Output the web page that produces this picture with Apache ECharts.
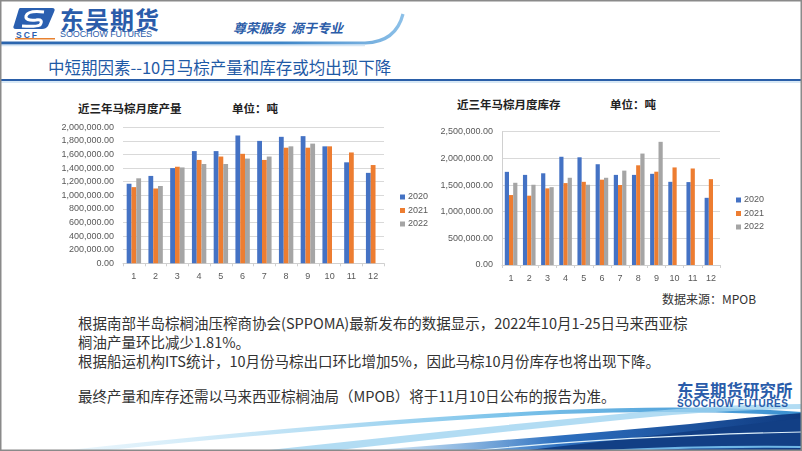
<!DOCTYPE html>
<html><head><meta charset="utf-8">
<script src="https://cdn.jsdelivr.net/npm/echarts@6/dist/echarts.min.js"></script>
<style>
html,body{margin:0;padding:0;background:#fff;}
#page{position:relative;width:802px;height:451px;overflow:hidden;background:#fff;font-family:"Noto Sans CJK SC","Noto Sans",sans-serif;}
#deco{position:absolute;left:0;top:0;width:802px;height:451px;}
#chart{position:absolute;left:0;top:0;width:802px;height:451px;}
.t{position:absolute;white-space:nowrap;line-height:1;}
</style></head>
<body>
<div id="page">
<svg id="deco" width="802" height="451" viewBox="0 0 802 451">
  <defs>
    <linearGradient id="hg" x1="0" y1="0" x2="1" y2="0">
      <stop offset="0" stop-color="#2a64ad"/><stop offset="0.7" stop-color="#3f86c8"/><stop offset="1" stop-color="#8cc0e8"/>
    </linearGradient>
    <linearGradient id="bg1" x1="0" y1="0" x2="1" y2="0">
      <stop offset="0" stop-color="#5fa6dd" stop-opacity="0.2"/><stop offset="0.45" stop-color="#2d6fbf"/><stop offset="1" stop-color="#0f3a80"/>
    </linearGradient>
    <linearGradient id="bg2" x1="0" y1="0" x2="1" y2="0">
      <stop offset="0" stop-color="#bfe3f6" stop-opacity="0.3"/><stop offset="0.6" stop-color="#7cc3ea"/><stop offset="1" stop-color="#3a8fd0"/>
    </linearGradient>
  </defs>
  <!-- logo -->
  <path d="M20,8 L52,8 Q56,8 54,12 L48,26 Q46,29 42,29 L16,29 Q12,29 14,25 L18,12 Q19,8 20,8 Z" fill="#2a5fb0"/>
  <path d="M44,12 Q28,10 26,16 Q25,21 36,20 Q44,19 40,25 Q36,27 22,26" fill="none" stroke="#fff" stroke-width="3"/>
  <text x="16" y="37.5" font-family="Liberation Sans, Arial" font-weight="bold" font-size="8.5" fill="#2a5fb0" letter-spacing="2">SCF</text>
  <rect x="15" y="38" width="40" height="1.5" fill="#e8812f"/>
  <!-- header curve -->
  <path d="M0,43 L365,43 Q396,42 403,14" fill="none" stroke="url(#hg)" stroke-width="3.2"/>
  <path d="M0,45.5 L365,45.5" fill="none" stroke="#d6e7f5" stroke-width="1.5"/>
  <!-- title rule -->
  <rect x="0" y="79" width="802" height="2" fill="#2a5ea8"/>
  <rect x="0" y="81" width="802" height="2" fill="#d8e8f5"/>
  <!-- bottom swoosh -->
  <path d="M60,451 Q350,420 560,410 Q700,404 802,412 L802,416 Q690,409 560,414 Q360,424 100,451 Z" fill="url(#bg2)"/>
  <path d="M260,451 Q470,428 640,412 Q730,404 802,404 L802,409 Q720,410 640,418 Q480,434 330,451 Z" fill="#9fd3f0" opacity="0.8"/>
  <path d="M360,451 Q540,438 690,424 Q760,416 802,413 L802,451 Z" fill="url(#bg1)"/>
  <path d="M520,451 Q670,434 802,418 L802,446 Q700,448 600,451 Z" fill="#123f85"/>
  <path d="M470,451 Q620,436 802,432" fill="none" stroke="#dff1fb" stroke-width="1.2"/>
  <path d="M600,451 Q700,446 802,447" fill="none" stroke="#6fb6e6" stroke-width="2"/>
  <!-- border -->
  <rect x="0.75" y="0.75" width="800.5" height="449.5" fill="none" stroke="#8a8a8a" stroke-width="1.5"/>
</svg>

<div class="t" style="left:60px;top:7px;font-size:24px;font-weight:bold;color:#2a5caa;letter-spacing:1px;">东吴期货</div>
<div class="t" style="left:60px;top:30px;font-size:9px;color:#2a5caa;font-family:'Liberation Sans',Arial;letter-spacing:-0.1px;">SOOCHOW FUTURES</div>
<div class="t" style="left:233px;top:21px;font-size:13px;font-weight:bold;color:#2b5ca8;font-style:italic;">尊荣服务 &nbsp;源于专业</div>
<div class="t" style="left:48px;top:59px;font-size:16.5px;color:#1f5aa6;">中短期因素--10月马棕产量和库存或均出现下降</div>

<div class="t" style="left:78px;top:103px;font-size:11.5px;font-weight:bold;color:#222;">近三年马棕月度产量</div>
<div class="t" style="left:232px;top:103px;font-size:11.5px;font-weight:bold;color:#222;">单位：吨</div>
<div class="t" style="left:457px;top:99px;font-size:11.5px;font-weight:bold;color:#222;">近三年马棕月度库存</div>
<div class="t" style="left:610px;top:99px;font-size:11.5px;font-weight:bold;color:#222;">单位：吨</div>
<div class="t" style="left:662px;top:293px;font-size:12px;color:#333;">数据来源：MPOB</div>

<div class="t" style="left:78px;top:316px;font-size:14.5px;color:#333;">根据南部半岛棕榈油压榨商协会(SPPOMA)最新发布的数据显示，2022年10月1-25日马来西亚棕</div>
<div class="t" style="left:78px;top:335px;font-size:14.5px;color:#333;">榈油产量环比减少1.81%。</div>
<div class="t" style="left:78px;top:354px;font-size:14.5px;color:#333;">根据船运机构ITS统计，10月份马棕出口环比增加5%，因此马棕10月份库存也将出现下降。</div>
<div class="t" style="left:78px;top:389px;font-size:14.5px;color:#333;">最终产量和库存还需以马来西亚棕榈油局（MPOB）将于11月10日公布的报告为准。</div>

<div class="t" style="left:677px;top:382px;font-size:16.5px;font-weight:bold;color:#2a5caa;">东吴期货研究所</div>
<div class="t" style="left:677px;top:399px;font-size:10px;font-weight:bold;color:#2a5caa;font-family:'Liberation Sans',Arial;letter-spacing:0.5px;">SOOCHOW FUTURES</div>

<div id="chart"></div>
</div>
<script>
var months = ['1','2','3','4','5','6','7','8','9','10','11','12'];
var years = ['2020','2021','2022'];
var prod2020 = [1170000,1285000,1400000,1650000,1650000,1880000,1800000,1860000,1870000,1720000,1485000,1330000];
var prod2021 = [1120000,1100000,1420000,1520000,1570000,1610000,1520000,1700000,1700000,1720000,1630000,1445000];
var prod2022 = [1250000,1137000,1410000,1460000,1460000,1540000,1570000,1720000,1760000,null,null,null];
var stock2020 = [1747000,1690000,1720000,2030000,2020000,1890000,1690000,1690000,1710000,1560000,1555000,1260000];
var stock2021 = [1312000,1300000,1437000,1536000,1560000,1600000,1500000,1870000,1750000,1830000,1810000,1610000];
var stock2022 = [1542000,1505000,1460000,1636000,1505000,1636000,1770000,2090000,2310000,null,null,null];
var prodTicks = {min:0, max:2000000, interval:200000};
var stockTicks = {min:0, max:2500000, interval:500000};
var colors = ['#4472C4','#ED7D31','#A5A5A5'];

function fmt(v){ return Number(v).toLocaleString('en-US',{minimumFractionDigits:2,maximumFractionDigits:2}); }

var chart = echarts.init(document.getElementById('chart'), null, {renderer:'canvas'});
function xAx(gi){
  return {type:'category', gridIndex:gi, data:months,
    axisLine:{show:true,lineStyle:{color:'#d0d0d0'}},
    axisTick:{show:true,length:3,lineStyle:{color:'#d0d0d0'}},
    axisLabel:{color:'#595959',fontSize:9,margin:9,fontFamily:'Liberation Sans, Arial'}};
}
function yAx(gi,t,showLine){
  return {type:'value', gridIndex:gi, min:t.min, max:t.max, interval:t.interval,
    axisLine:{show:showLine,lineStyle:{color:'#d0d0d0'}}, axisTick:{show:false},
    splitLine:{lineStyle:{color:'#d9d9d9',width:1}},
    axisLabel:{color:'#595959',fontSize:9,margin:9,formatter:fmt,fontFamily:'Liberation Sans, Arial'}};
}
function bars(name,data,gi,ci,bw){
  return {type:'bar', name:name, data:data, xAxisIndex:gi, yAxisIndex:gi,
    barWidth:bw, barGap:'0%', itemStyle:{color:colors[ci]}, animation:false};
}
chart.setOption({
  animation:false,
  backgroundColor:'transparent',
  grid:[
    {left:123, right:418, top:127.3, bottom:187.7, containLabel:false},
    {left:502, right:82, top:131.7, bottom:186, containLabel:false}
  ],
  xAxis:[xAx(0), xAx(1)],
  yAxis:[yAx(0,prodTicks,false), yAx(1,stockTicks,true)],
  legend:[
    {left:395, top:187, orient:'vertical', itemWidth:5, itemHeight:5, itemGap:3.5, icon:'rect',
     data:years, textStyle:{fontSize:9,color:'#595959',lineHeight:10,padding:[0,0,0,-2],fontFamily:'Liberation Sans, Arial'}, selectedMode:false},
    {left:731, top:190, orient:'vertical', itemWidth:5, itemHeight:5, itemGap:3.5, icon:'rect',
     data:years, textStyle:{fontSize:9,color:'#595959',lineHeight:10,padding:[0,0,0,-2],fontFamily:'Liberation Sans, Arial'}, selectedMode:false}
  ],
  series:[
    bars(years[0],prod2020,0,0,4.8),
    bars(years[1],prod2021,0,1,4.8),
    bars(years[2],prod2022,0,2,4.8),
    bars(years[0],stock2020,1,0,4.2),
    bars(years[1],stock2021,1,1,4.2),
    bars(years[2],stock2022,1,2,4.2)
  ]
});
</script>
</body></html>
